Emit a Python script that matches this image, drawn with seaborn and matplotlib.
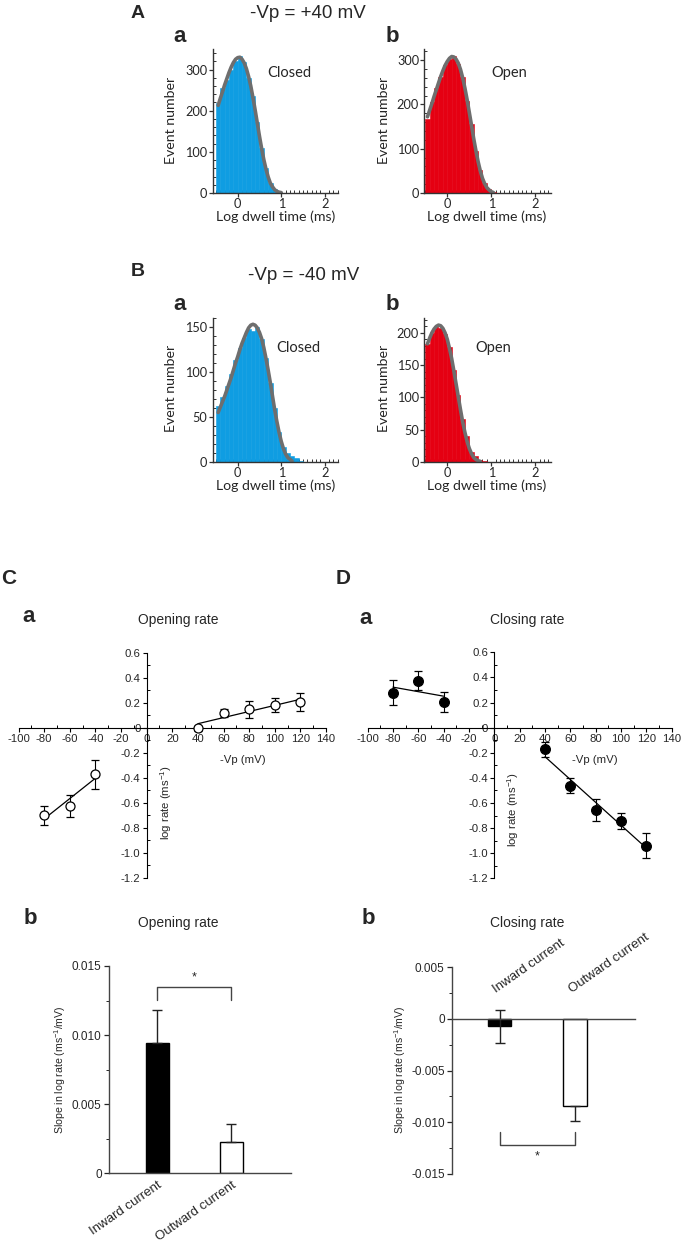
import numpy as np
import pandas as pd
import matplotlib
matplotlib.use('Agg')
import matplotlib.pyplot as plt
import seaborn as sns
from matplotlib.ticker import MultipleLocator, FixedLocator, FuncFormatter

# ---------------- data ----------------
# dwell-time histograms (bins of 0.1 log units starting at -0.5)
bin_start = -0.5
bin_w = 0.1
closed_pos40 = [218, 255, 275, 300, 322, 332, 318, 280, 235, 172, 110, 60, 25, 9, 3, 1]
open_pos40 = [166, 205, 236, 262, 290, 302, 310, 292, 262, 208, 156, 95, 52, 22, 8, 2, 1]
closed_neg40 = [62, 72, 85, 98, 113, 127, 138, 148, 146, 150, 137, 116, 88, 60, 33, 17, 10, 7, 4, 1]
open_neg40 = [182, 200, 210, 208, 198, 178, 142, 104, 66, 40, 16, 9, 3, 1]

# fitted curves sampled every 0.05 log units from -0.45
curve_start = -0.45
curve_step = 0.05
fit_closed_pos40 = [213, 230, 246, 263, 278, 293, 306, 317, 325, 329, 330, 325, 316, 302, 283,
                    260, 232, 202, 170, 138, 108, 81, 58, 39, 24, 15, 8, 4, 2, 1]
fit_open_pos40 = [172, 187, 202, 218, 233, 248, 263, 276, 288, 297, 304, 308, 307, 302, 293,
                  279, 260, 237, 211, 182, 153, 123, 96, 71, 50, 33, 21, 12, 7, 3, 1]
fit_closed_neg40 = [55, 61, 67, 73, 80, 87, 94, 102, 110, 117, 125, 132, 138, 144, 149, 152,
                    153, 152, 149, 144, 137, 127, 115, 102, 88, 73, 58, 45, 33, 23, 15, 9, 5, 3, 1]
fit_open_neg40 = [183, 192, 200, 206, 210, 212, 211, 207, 200, 190, 176, 160, 141, 121, 101,
                  81, 62, 46, 32, 21, 13, 7, 4, 2, 1]

# voltage dependence of rates
vp_neg = [-80, -60, -40]
vp_pos = [40, 60, 80, 100, 120]
open_rate_neg = [-0.698, -0.624, -0.373]
open_rate_neg_err = [0.075, 0.09, 0.115]
open_rate_pos = [-0.005, 0.12, 0.147, 0.182, 0.208]
open_rate_pos_err = [0.02, 0.03, 0.07, 0.055, 0.07]
close_rate_neg = [0.279, 0.374, 0.207]
close_rate_neg_err = [0.1, 0.075, 0.08]
close_rate_pos = [-0.172, -0.462, -0.655, -0.745, -0.94]
close_rate_pos_err = [0.06, 0.06, 0.09, 0.065, 0.1]

# slopes
cur_cats = ['Inward current', 'Outward current']
open_slope = [0.0094, 0.00229]
open_slope_err = [0.0024, 0.0013]
close_slope = [-0.0007, -0.0084]
close_slope_err_low = [0.0016, 0.00145]
close_slope_err_up = [0.0016, 0.0]

# ---------------- style ----------------
sns.set_theme(style='ticks')
plt.rcParams['font.family'] = ['Liberation Sans', 'DejaVu Sans']
plt.rcParams['axes.unicode_minus'] = False
plt.rcParams['mathtext.default'] = 'regular'

W, H = 685, 1248
fig = plt.figure(figsize=(W / 100, H / 100), dpi=100)


def add_ax(l, t, r, b):
    return fig.add_axes([l / W, 1 - b / H, (r - l) / W, (b - t) / H])


def ftxt(x, y, s, **kw):
    kw.setdefault('ha', 'center')
    kw.setdefault('va', 'center')
    fig.text(x / W, 1 - y / H, s, **kw)


HFONT = ['Lato', 'DejaVu Sans']
BLUE = '#0f9de2'
RED = '#e50012'


def hist_panel(rect, heights, curve, color, xlim, ylim, ymaj, ymin):
    ax = add_ax(*rect)
    n = len(heights)
    centers = bin_start + bin_w * (np.arange(n) + 0.5)
    edges = bin_start + bin_w * np.arange(n + 1)
    df = pd.DataFrame({'t': centers, 'n': np.asarray(heights, dtype=float)})
    sns.histplot(data=df, x='t', weights='n', bins=list(edges), color=color, alpha=1,
                 edgecolor=color, linewidth=0.4, ax=ax)
    cdf = pd.DataFrame({'t': curve_start + curve_step * np.arange(len(curve)),
                        'n': np.asarray(curve, dtype=float)})
    sns.lineplot(data=cdf, x='t', y='n', color='#6e6e6e', lw=2.6, ax=ax)
    ax.set_xlim(*xlim)
    ax.set_ylim(*ylim)
    ax.set_xlabel('')
    ax.set_ylabel('')
    for s in ['top', 'right']:
        ax.spines[s].set_visible(False)
    for s in ['left', 'bottom']:
        ax.spines[s].set_color('#333333')
        ax.spines[s].set_linewidth(1.0)
    ax.xaxis.set_major_locator(FixedLocator([0, 1, 2]))
    ax.xaxis.set_minor_locator(MultipleLocator(0.1))
    ax.yaxis.set_major_locator(MultipleLocator(ymaj))
    ax.yaxis.set_minor_locator(MultipleLocator(ymin))
    ax.tick_params(which='major', direction='out', length=3, width=0.9, color='#333333',
                   labelsize=9.2, pad=0.8)
    ax.tick_params(which='minor', direction='in', length=2, width=0.7, color='#333333')
    for lab in ax.get_xticklabels() + ax.get_yticklabels():
        lab.set_family(HFONT)
    return ax


# ---------------- A / B histograms ----------------
hist_panel((212.5, 49, 338.2, 193), closed_pos40, fit_closed_pos40, BLUE, (-0.58, 2.31), (0, 350), 100, 20)
hist_panel((424.4, 49, 550.7, 193), open_pos40, fit_open_pos40, RED, (-0.52, 2.35), (0, 325), 100, 20)
hist_panel((212.5, 318, 338.2, 462), closed_neg40, fit_closed_neg40, BLUE, (-0.58, 2.31), (0, 160), 50, 10)
hist_panel((424.4, 318, 550.7, 462), open_neg40, fit_open_neg40, RED, (-0.52, 2.35), (0, 223), 50, 10)

for (yl, yc) in [(120, 217), (388, 486)]:
    ftxt(171, yl, 'Event number', rotation=90, fontsize=10.2, family=HFONT)
    ftxt(384, yl, 'Event number', rotation=90, fontsize=10.2, family=HFONT)
    ftxt(276, yc, 'Log dwell time (ms)', fontsize=10.2, family=HFONT)
    ftxt(487, yc, 'Log dwell time (ms)', fontsize=10.2, family=HFONT)

ftxt(289, 73, 'Closed', fontsize=10.5, family=HFONT)
ftxt(509, 73, 'Open', fontsize=10.5, family=HFONT)
ftxt(298, 348, 'Closed', fontsize=10.5, family=HFONT)
ftxt(493, 348, 'Open', fontsize=10.5, family=HFONT)

ftxt(308, 13, '-Vp = +40 mV', fontsize=13.5)
ftxt(304, 275, '-Vp = -40 mV', fontsize=13.5)
ftxt(138, 14, 'A', fontsize=14, fontweight='bold')
ftxt(138, 271, 'B', fontsize=14, fontweight='bold')
ftxt(180, 36, 'a', fontsize=16, fontweight='bold')
ftxt(392, 36, 'b', fontsize=16, fontweight='bold')
ftxt(180, 304, 'a', fontsize=16, fontweight='bold')
ftxt(392, 304, 'b', fontsize=16, fontweight='bold')


# ---------------- C a / D a ----------------
def rate_panel(rect, yn, en, yp, ep, filled):
    ax = add_ax(*rect)
    lk = dict(color='black', lw=0.9)
    sns.regplot(x=np.array(vp_neg, float), y=np.array(yn), ci=None, scatter=False,
                truncate=True, line_kws=lk, ax=ax)
    sns.regplot(x=np.array(vp_pos, float), y=np.array(yp), ci=None, scatter=False,
                truncate=True, line_kws=lk, ax=ax)
    mfc = 'black' if filled else 'white'
    ms = 7 if filled else 6.5
    for xs, ys, es in [(vp_neg, yn, en), (vp_pos, yp, ep)]:
        ax.errorbar(xs, ys, yerr=es, fmt='o', mfc=mfc, mec='black', mew=0.9, ms=ms,
                    ecolor='black', elinewidth=0.8, capsize=3, capthick=0.8, zorder=3)
    ax.set_xlim(-100, 140)
    ax.set_ylim(-1.2, 0.6)
    ax.set_xlabel('')
    ax.set_ylabel('')
    for s in ['top', 'right']:
        ax.spines[s].set_visible(False)
    ax.spines['left'].set_position(('data', 0))
    ax.spines['bottom'].set_position(('data', 0))
    for s in ['left', 'bottom']:
        ax.spines[s].set_color('black')
        ax.spines[s].set_linewidth(0.8)
    ax.xaxis.set_major_locator(MultipleLocator(20))
    ax.xaxis.set_minor_locator(MultipleLocator(10))
    ax.yaxis.set_major_locator(MultipleLocator(0.2))
    ax.yaxis.set_minor_locator(MultipleLocator(0.1))
    ax.xaxis.set_major_formatter(FuncFormatter(lambda v, p: f'{v:.0f}'))
    ax.yaxis.set_major_formatter(FuncFormatter(lambda v, p: '0' if abs(v) < 1e-9 else f'{v:.1f}'))
    ax.tick_params(which='major', direction='out', length=3, width=0.8, color='black',
                   labelsize=8.2, pad=1.5)
    ax.tick_params(which='minor', direction='in', length=2, width=0.7, color='black')
    return ax


rate_panel((18.6, 652.7, 326, 878), open_rate_neg, open_rate_neg_err,
           open_rate_pos, open_rate_pos_err, False)
rate_panel((367.6, 652.3, 671.7, 878.4), close_rate_neg, close_rate_neg_err,
           close_rate_pos, close_rate_pos_err, True)

ftxt(243, 760, '-Vp (mV)', fontsize=8.2)
ftxt(595, 760, '-Vp (mV)', fontsize=8.2)
ftxt(166, 803, 'log rate (ms$^{-1}$)', rotation=90, fontsize=8.2)
ftxt(513, 810, 'log rate (ms$^{-1}$)', rotation=90, fontsize=8.2)

ftxt(9, 578, 'C', fontsize=15, fontweight='bold')
ftxt(343, 578, 'D', fontsize=15, fontweight='bold')
ftxt(29, 616, 'a', fontsize=16, fontweight='bold')
ftxt(366, 618, 'a', fontsize=16, fontweight='bold')
ftxt(178, 620, 'Opening rate', fontsize=10)
ftxt(527, 620, 'Closing rate', fontsize=10)

# ---------------- C b ----------------
ax = add_ax(109.3, 966, 291, 1173.3)
sns.barplot(x=cur_cats, y=open_slope, hue=cur_cats, palette=['black', 'white'],
            edgecolor='black', linewidth=1, width=0.31, legend=False, errorbar=None, ax=ax)
ax.errorbar([0, 1], open_slope, yerr=[[0, 0], open_slope_err], fmt='none', ecolor='#222222',
            elinewidth=1, capsize=3.5, capthick=1, zorder=1)
ax.plot([0, 0, 1, 1], [0.01255, 0.0135, 0.0135, 0.01255], color='#444444', lw=1)
ax.text(0.5, 0.01415, '*', ha='center', va='center', fontsize=9)
ax.set_xlim(-0.65, 1.81)
ax.set_ylim(0, 0.015)
ax.set_xlabel('')
ax.set_ylabel('')
for s in ['top', 'right']:
    ax.spines[s].set_visible(False)
for s in ['left', 'bottom']:
    ax.spines[s].set_color('#444444')
    ax.spines[s].set_linewidth(1)
ax.yaxis.set_major_locator(FixedLocator([0, 0.005, 0.01, 0.015]))
ax.yaxis.set_major_formatter(FuncFormatter(lambda v, p: '0' if abs(v) < 1e-12 else f'{v:.3f}'))
ax.yaxis.set_minor_locator(MultipleLocator(0.0025))
ax.tick_params(axis='y', which='major', direction='out', length=3.5, width=0.9, labelsize=8.5, pad=2)
ax.tick_params(axis='y', which='minor', direction='out', length=2, width=0.7)
ax.tick_params(axis='x', length=0, labelsize=9.5, pad=4)
ax.set_xticks([0, 1])
ax.set_xticklabels(cur_cats, rotation=35, ha='right', rotation_mode='anchor')

ftxt(60, 1070, 'Slope in log rate (ms$^{-1}$/mV)', rotation=90, fontsize=7.6)
ftxt(30, 918, 'b', fontsize=16, fontweight='bold')
ftxt(178, 923, 'Opening rate', fontsize=10)

# ---------------- D b ----------------
ax = add_ax(452.3, 967.3, 635, 1174)
sns.barplot(x=cur_cats, y=close_slope, hue=cur_cats, palette=['black', 'white'],
            edgecolor='black', linewidth=1, width=0.31, legend=False, errorbar=None, ax=ax)
ax.errorbar([0, 1], close_slope, yerr=[close_slope_err_low, close_slope_err_up], fmt='none',
            ecolor='#222222', elinewidth=1, capsize=3.5, capthick=1, zorder=1)
ax.plot([0, 0, 1, 1], [-0.0109, -0.01215, -0.01215, -0.0109], color='#444444', lw=1)
ax.text(0.5, -0.0133, '*', ha='center', va='center', fontsize=9)
for i, name in enumerate(cur_cats):
    ax.text(i - 0.02, 0.0023, name, rotation=35, ha='left', va='bottom',
            rotation_mode='anchor', fontsize=9.5)
ax.set_xlim(-0.63, 1.80)
ax.set_ylim(-0.015, 0.005)
ax.set_xlabel('')
ax.set_ylabel('')
for s in ['top', 'right']:
    ax.spines[s].set_visible(False)
ax.spines['bottom'].set_position(('data', 0))
for s in ['left', 'bottom']:
    ax.spines[s].set_color('#444444')
    ax.spines[s].set_linewidth(1)
ax.yaxis.set_major_locator(FixedLocator([-0.015, -0.01, -0.005, 0, 0.005]))
ax.yaxis.set_major_formatter(FuncFormatter(lambda v, p: '0' if abs(v) < 1e-12 else f'{v:.3f}'))
ax.yaxis.set_minor_locator(MultipleLocator(0.0025))
ax.tick_params(axis='y', which='major', direction='out', length=3.5, width=0.9, labelsize=8.5, pad=2)
ax.tick_params(axis='y', which='minor', direction='out', length=2, width=0.7)
ax.tick_params(axis='x', length=0, labelbottom=False)

ftxt(400, 1070, 'Slope in log rate (ms$^{-1}$/mV)', rotation=90, fontsize=7.6)
ftxt(368, 918, 'b', fontsize=16, fontweight='bold')
ftxt(527, 923, 'Closing rate', fontsize=10)

fig.savefig('out.png', dpi=100, facecolor='white')
